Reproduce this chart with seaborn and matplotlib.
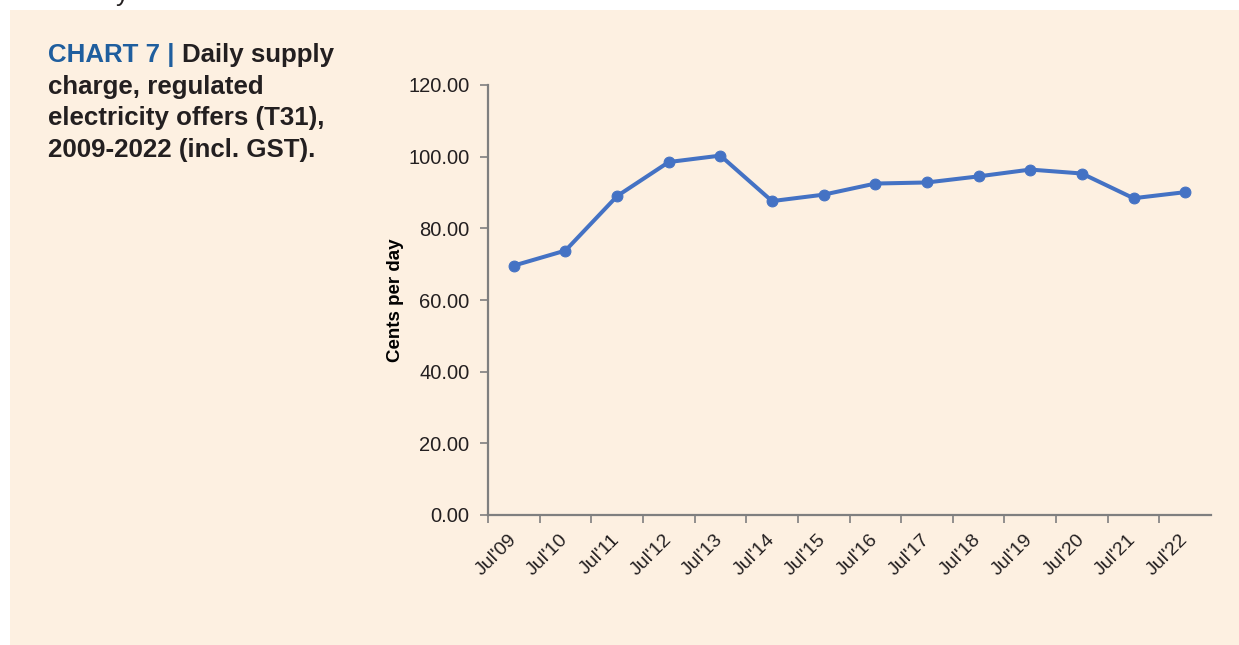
import matplotlib
matplotlib.use("Agg")
import matplotlib.pyplot as plt
import seaborn as sns
import pandas as pd
from matplotlib.patches import Rectangle
from matplotlib.ticker import FixedLocator

# ---- data ----
periods = ["Jul'09", "Jul'10", "Jul'11", "Jul'12", "Jul'13", "Jul'14", "Jul'15",
           "Jul'16", "Jul'17", "Jul'18", "Jul'19", "Jul'20", "Jul'21", "Jul'22"]
cents_per_day = [69.6, 73.8, 89.0, 98.5, 100.3, 87.6, 89.4,
                 92.5, 92.8, 94.5, 96.4, 95.3, 88.4, 90.1]
y_ticks = [0, 20, 40, 60, 80, 100, 120]
title_lines = ["charge, regulated", "electricity offers (T31),", "2009-2022 (incl. GST)."]
title_prefix = "CHART 7 | "
title_first = "Daily supply"
y_label = "Cents per day"

df = pd.DataFrame({"period": periods, "value": cents_per_day})

sns.set_theme(style="white")
plt.rcParams["font.family"] = ["Liberation Sans", "DejaVu Sans"]

W, H = 1239, 645
BG = "#FDF0E1"
LINE = "#4472C4"
DARK = "#231F20"
BLUE = "#1F5E9E"
SPINE = "#7F7F7F"

fig = plt.figure(figsize=(W / 100, H / 100), dpi=100)
fig.patch.set_facecolor("white")
fig.patches.append(Rectangle((10 / W, 0), 1 - 10 / W, 1 - 10 / H,
                             transform=fig.transFigure, facecolor=BG,
                             edgecolor="none", zorder=-10))

ax = fig.add_axes([488 / W, 1 - 515 / H, (1211 - 488) / W, (515 - 85) / H])
ax.set_facecolor("none")

sns.lineplot(data=df, x="period", y="value", ax=ax, sort=False,
             color=LINE, linewidth=2.9, marker="o", markersize=7.8,
             markeredgecolor=LINE, markerfacecolor=LINE)

ax.set_xlim(-0.5, len(periods) - 0.5)
ax.set_ylim(0, 120)
ax.set_yticks(y_ticks)
ax.set_yticklabels([f"{v:.2f}" for v in y_ticks])

ax.xaxis.set_major_locator(FixedLocator(range(len(periods))))
ax.set_xticklabels(periods)
ax.xaxis.set_minor_locator(FixedLocator([i - 0.5 for i in range(len(periods))]))
ax.tick_params(axis="x", which="major", length=0, pad=16, labelsize=14,
               labelcolor=DARK)
ax.tick_params(axis="x", which="minor", length=6, width=1.2, color=SPINE,
               direction="out", bottom=True)
ax.tick_params(axis="y", which="major", length=6, width=1.2, color=SPINE,
               direction="out", left=True, pad=7.5, labelsize=14.5, labelcolor=DARK)
for lab in ax.get_xticklabels():
    lab.set_rotation(45)
    lab.set_ha("right")
    lab.set_va("center")
    lab.set_rotation_mode("anchor")

for s in ["top", "right"]:
    ax.spines[s].set_visible(False)
for s in ["left", "bottom"]:
    ax.spines[s].set_color(SPINE)
    ax.spines[s].set_linewidth(1.6)

ax.set_xlabel("")
ax.set_ylabel(y_label, fontsize=13.5, fontweight="bold", color="black")
ax.yaxis.set_label_coords((404 - 488) / (1211 - 488), 0.5)

# ---- title block ----
fs = 18.6
x0 = 48 / W
t1 = fig.text(x0, 1 - 62 / H, title_prefix, color=BLUE, fontsize=fs,
              fontweight="bold", va="baseline", ha="left")
fig.canvas.draw()
bb = t1.get_window_extent(renderer=fig.canvas.get_renderer())
fig.text(bb.x1 / W, 1 - 62 / H, title_first, color=DARK, fontsize=fs,
         fontweight="bold", va="baseline", ha="left")
for i, line in enumerate(title_lines):
    fig.text(x0, 1 - (62 + 31.7 * (i + 1)) / H, line, color=DARK, fontsize=fs,
             fontweight="bold", va="baseline", ha="left")

# cut-off text fragment at the very top of the page
fig.text(116 / W, 1 - 0.5 / H, "y", color=DARK, fontsize=fs, va="baseline", ha="left")

fig.savefig("out.png", dpi=100, facecolor=fig.get_facecolor())
